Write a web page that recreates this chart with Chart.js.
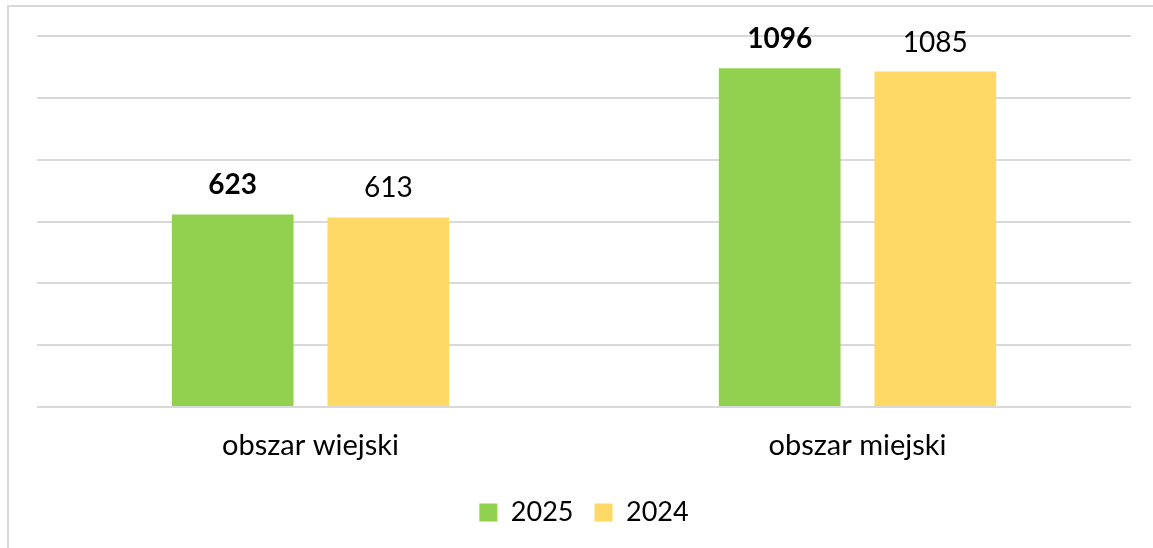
<!DOCTYPE html>
<html>
<head>
<meta charset="utf-8">
<script src="https://cdn.jsdelivr.net/npm/chart.js@4/dist/chart.umd.min.js"></script>
<style>
  html, body { margin: 0; padding: 0; background: #fff; }
  #wrap { position: relative; width: 1153px; height: 548px; overflow: hidden; }
  #frame { position: absolute; left: 7px; top: 5px; width: 1200px; height: 600px; border: 2px solid #d9d9d9; box-sizing: border-box; }
  #chart { position: absolute; left: 0; top: 0; }
</style>
</head>
<body>
<div id="wrap">
  <div id="frame"></div>
  <canvas id="chart" width="1153" height="548"></canvas>
</div>
<script>
const categories = ['obszar wiejski', 'obszar miejski'];
const seriesNames = ['2025', '2024'];
const values2025 = [623, 1096];
const values2024 = [613, 1085];

const FONT = 'Lato, "Open Sans", sans-serif';

// prints the value above each bar, bold for the 2025 series
const valueLabels = {
    id: 'valueLabels',
    afterDatasetsDraw(chart) {
        const ctx = chart.ctx;
        ctx.save();
        ctx.fillStyle = '#000';
        ctx.textAlign = 'center';
        ctx.textBaseline = 'alphabetic';
        chart.data.datasets.forEach((ds, i) => {
            const meta = chart.getDatasetMeta(i);
            ctx.font = (i === 0 ? 'bold ' : '') + '28px ' + FONT;
            meta.data.forEach((bar, j) => {
                ctx.fillText(String(ds.data[j]), bar.x, bar.y - 20);
            });
        });
        ctx.restore();
    }
};

new Chart(document.getElementById('chart'), {
    type: 'bar',
    data: {
        labels: categories,
        datasets: [
            { label: seriesNames[0], data: values2025, backgroundColor: '#92d050' },
            { label: seriesNames[1], data: values2024, backgroundColor: '#ffd966' },
        ],
    },
    options: {
        responsive: false,
        animation: false,
        categoryPercentage: 0.569,
        barPercentage: 0.782,
        layout: { padding: { left: 37, right: 22, top: 36, bottom: 12 } },
        plugins: {
            legend: {
                position: 'bottom',
                labels: { boxWidth: 18, boxHeight: 18, color: '#000', font: { family: FONT, size: 27 }, padding: 21 },
            },
            tooltip: { enabled: false },
        },
        scales: {
            x: {
                grid: { display: false },
                border: { display: false },
                ticks: { color: '#000', font: { family: FONT, size: 29 }, padding: 13 },
                afterFit(scale) { scale.height = 71; },
            },
            y: {
                min: 0,
                max: 1200,
                ticks: { display: false, stepSize: 200 },
                grid: { color: '#d9d9d9', lineWidth: 2, drawTicks: false },
                border: { display: false },
                afterFit(scale) { scale.width = 0; },
            },
        },
    },
    plugins: [valueLabels],
});
</script>
</body>
</html>
